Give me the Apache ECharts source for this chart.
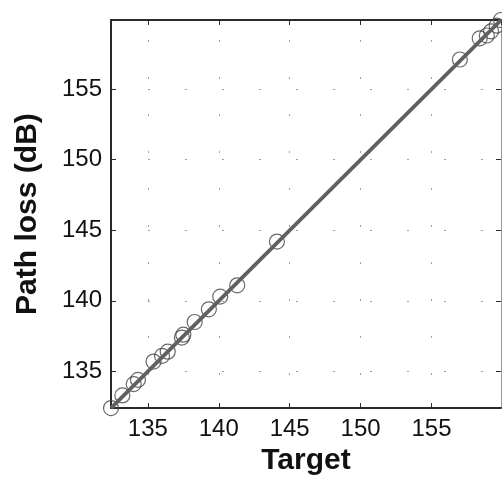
<!DOCTYPE html>
<html>
<head>
<meta charset="utf-8">
<script src="https://cdn.jsdelivr.net/npm/echarts@6.0.0/dist/echarts.min.js"></script>
<style>
html,body{margin:0;padding:0;background:#fff;}
#chart{width:502px;height:481px;}
</style>
</head>
<body>
<div id="chart"></div>
<script>
// Data
var targetValues = [132.4, 133.2, 134.0, 134.3, 135.4, 136.0, 136.4, 137.4, 137.5, 138.3, 139.3, 140.1, 141.3, 144.1, 157.0, 158.4, 158.9, 159.2, 159.6, 159.9];
var pathLossValues = [132.4, 133.3, 134.1, 134.4, 135.7, 136.1, 136.4, 137.4, 137.6, 138.5, 139.4, 140.3, 141.1, 144.2, 157.1, 158.6, 158.8, 159.1, 159.5, 159.9];
var fitLineX = [132.4, 159.9];
var fitLineY = [132.4, 159.9];
var axisMin = 132.4;
var axisMax = 159.9;
var tickStep = 5;
var xTitle = 'Target';
var yTitle = 'Path loss (dB)';

var points = targetValues.map(function (x, i) { return [x, pathLossValues[i]]; });
var fit = fitLineX.map(function (x, i) { return [x, fitLineY[i]]; });

var font = 'Liberation Sans, Arial, sans-serif';
var axisCol = '#2a2a2a';

function baseAxis(extra) {
  var a = {
    type: 'value',
    min: axisMin,
    max: axisMax,
    minInterval: tickStep,
    maxInterval: tickStep,
    splitNumber: 5,
    axisLine: { show: true, onZero: false, lineStyle: { color: axisCol, width: 2 } },
    axisTick: { show: true, inside: true, length: 5, lineStyle: { color: axisCol, width: 1 } },
    axisLabel: { show: true, showMinLabel: false, showMaxLabel: false, color: '#111', fontFamily: font, fontSize: 24, margin: 9 },
    splitLine: { show: false }
  };
  for (var k in extra) a[k] = extra[k];
  return a;
}

var chart = echarts.init(document.getElementById('chart'), null, { renderer: 'canvas' });
chart.setOption({
  animation: false,
  backgroundColor: '#fff',
  grid: { left: 111, right: 1, top: 20, bottom: 72, containLabel: false },
  xAxis: [
    baseAxis({
      position: 'bottom',
      name: xTitle,
      nameLocation: 'middle',
      nameGap: 35,
      nameTextStyle: { color: '#111', fontFamily: font, fontSize: 30, fontWeight: 'bold' },
      splitLine: { show: true, lineStyle: { color: '#a0a0a0', width: 1, type: [2, 35], dashOffset: 17 } }
    }),
    baseAxis({ position: 'top', axisLabel: { show: false } })
  ],
  yAxis: [
    baseAxis({
      position: 'left',
      name: yTitle,
      nameLocation: 'middle',
      nameGap: 68,
      nameTextStyle: { color: '#111', fontFamily: font, fontSize: 30, fontWeight: 'bold' },
      splitLine: { show: true, lineStyle: { color: '#a0a0a0', width: 1, type: [2, 35], dashOffset: 0 } }
    }),
    baseAxis({ position: 'right', axisLabel: { show: false }, axisLine: { show: true, onZero: false, lineStyle: { color: '#999', width: 1 } } })
  ],
  series: [
    {
      type: 'scatter',
      data: points,
      xAxisIndex: 0,
      yAxisIndex: 0,
      symbol: 'circle',
      symbolSize: 15,
      itemStyle: { color: 'rgba(255,255,255,0)', borderColor: '#444', borderWidth: 1.2 },
      z: 2
    },
    {
      type: 'line',
      data: fit,
      xAxisIndex: 0,
      yAxisIndex: 0,
      symbol: 'none',
      lineStyle: { color: '#606060', width: 3.8 },
      z: 3
    }
  ]
});
</script>
</body>
</html>
